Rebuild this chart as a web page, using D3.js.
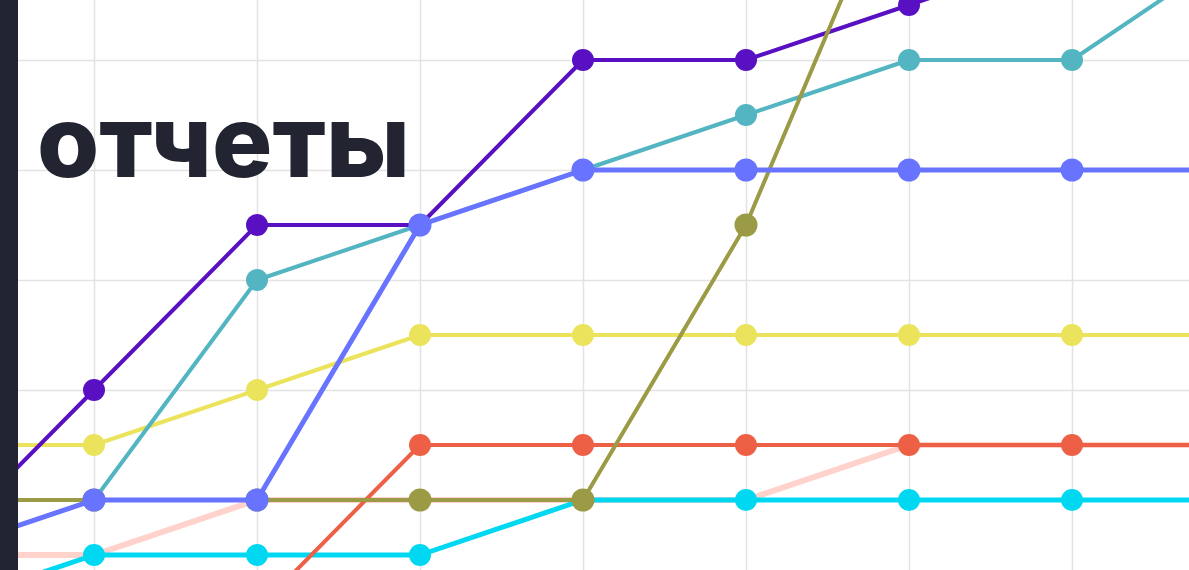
<!DOCTYPE html>
<html><head><meta charset="utf-8">
<script src="https://cdn.jsdelivr.net/npm/d3@7"></script>
<style>html,body{margin:0;padding:0;background:#fff;overflow:hidden}</style>
</head><body>
<svg id="c" width="1189" height="570"></svg>
<script>
const periods = [-1, 0, 1, 2, 3, 4, 5, 6, 7];
const gridTicks = [1, 3, 5, 7, 9];
const titleText = "отчеты";
const pink   = [0, 0, 1, 1, 1, 1, 2, 2, 2];
const cyan   = [-1, 0, 0, 0, 1, 1, 1, 1, 1];
const red    = [-1, -1, -1, 2, 2, 2, 2, 2, 2];
const yellow = [2, 2, 3, 4, 4, 4, 4, 4, 4];
const purple = [0, 3, 6, 6, 9, 9, 10, 11, 11];
const teal   = [1, 1, 5, 6, 7, 8, 9, 9, 11];
const olive  = [1, 1, 1, 1, 1, 6, 13, 13, 13];
const blue   = [0, 1, 1, 6, 7, 7, 7, 7, 7];

const series = [
  {v: pink,   c: "#ffd2cb", w: 6,   r: 10},
  {v: cyan,   c: "#00d8f2", w: 5,   r: 11},
  {v: red,    c: "#ee6046", w: 4,   r: 11},
  {v: yellow, c: "#ebe35c", w: 4,   r: 11},
  {v: purple, c: "#5810c2", w: 4,   r: 11},
  {v: teal,   c: "#52b5c1", w: 4,   r: 11},
  {v: olive,  c: "#9b9a45", w: 4,   r: 11.5},
  {v: blue,   c: "#6874ff", w: 5,   r: 11.5}
];

const svg = d3.select("#c");
const x = d3.scaleLinear().domain([-1, 7]).range([-69, 1235]);
const y = d3.scaleLinear().domain([0, 10]).range([555, 5]);

svg.append("defs").append("clipPath").attr("id","clip")
  .append("rect").attr("x",18).attr("y",0).attr("width",1171).attr("height",570);

const g = svg.append("g").attr("clip-path","url(#clip)");

// grid
g.append("g")
  .call(d3.axisBottom(x).tickValues(periods).tickSize(570).tickFormat(""))
  .call(a => a.select(".domain").remove())
  .selectAll("line").attr("stroke","#e3e3e3").attr("stroke-width",1.5);
g.append("g")
  .call(d3.axisRight(y).tickValues(gridTicks).tickSize(1189).tickFormat(""))
  .call(a => a.select(".domain").remove())
  .selectAll("line").attr("stroke","#e3e3e3").attr("stroke-width",1.5);

// title text (behind lines)
svg.append("text").attr("x",37).attr("y",177)
  .attr("font-family","Inter, 'Noto Sans', sans-serif").attr("font-weight",800)
  .attr("font-size",100).attr("fill","#222531")
  .attr("textLength",373).attr("lengthAdjust","spacingAndGlyphs")
  .text(titleText);

const line = d3.line().x((d,i)=>x(periods[i])).y(d=>y(d));
series.forEach(s => {
  g.append("path").datum(s.v).attr("d", line).attr("fill","none")
    .attr("stroke", s.c).attr("stroke-width", s.w).attr("stroke-linejoin","round");
  g.selectAll(null).data(s.v).enter().append("circle")
    .attr("cx",(d,i)=>x(periods[i])).attr("cy",d=>y(d)).attr("r",s.r).attr("fill",s.c);
});

// left dark bar
svg.append("rect").attr("x",0).attr("y",0).attr("width",18).attr("height",570).attr("fill","#222531");
</script>
</body></html>
